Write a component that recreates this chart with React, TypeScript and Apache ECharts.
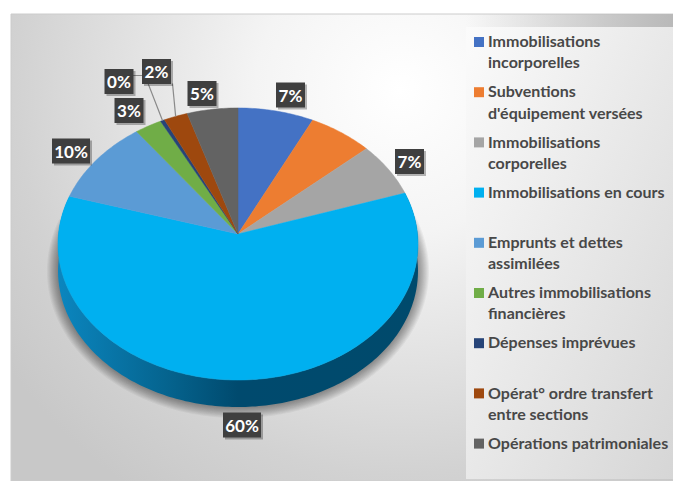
import React, { useEffect, useRef } from "react";
import * as echarts from "echarts";

// Budget shares per section, in percent
const sliceNames = [
  "Immobilisations\nincorporelles",
  "Subventions\nd'équipement versées",
  "Immobilisations\ncorporelles",
  "Immobilisations en cours",
  "Emprunts et dettes\nassimilées",
  "Autres immobilisations\nfinancières",
  "Dépenses imprévues",
  "Opérat° ordre transfert\nentre sections",
  "Opérations patrimoniales",
];
const sliceValues = [7.3, 6.2, 6.5, 59.6, 10.2, 2.6, 0.4, 2.3, 4.9];
const sliceColors = ["#4472c4", "#ed7d31", "#a5a5a5", "#00b0f0", "#5b9bd5", "#70ad47", "#264478", "#9e480e", "#636363"];

// Label box centres; the orange slice carries no label
const labelCenters: ([number, number] | null)[] = [
  [290.5, 95], null, [409.5, 161.5], [242, 425], [71, 151], [129, 110.5], [119, 81.5], [156.5, 71.5], [202, 93.5],
];

const FONT = "Lato, 'Noto Sans', sans-serif";
const CX = 238;
const CY = 234;
const RADIUS_X = 179.5;
const RADIUS_Y = 135.3;
const TILT = 0.0735;
const DEPTH = 27;
const SHADOW_LAYERS = 10;

const total = sliceValues.reduce((a, b) => a + b, 0);

// Perspective projection of a point of the disc's rim, angle clockwise from 12 o'clock
function rim(deg: number): [number, number] {
  const t = (deg * Math.PI) / 180;
  const u = Math.sin(t);
  const v = Math.cos(t);
  const w = 1 + TILT * v;
  return [CX + (RADIUS_X * u) / w, CY - (RADIUS_Y * v) / w];
}

function sliceRange(i: number): [number, number] {
  const before = sliceValues.slice(0, i).reduce((a, b) => a + b, 0);
  return [(before / total) * 360, ((before + sliceValues[i]) / total) * 360];
}

function arcPoints(from: number, to: number): [number, number][] {
  const pts: [number, number][] = [];
  const n = Math.max(2, Math.ceil(to - from));
  for (let k = 0; k <= n; k++) pts.push(rim(from + ((to - from) * k) / n));
  return pts;
}

export default function App() {
  const ref = useRef<HTMLDivElement>(null);

  useEffect(() => {
    document.body.style.margin = "0";
    document.body.style.background = "#ffffff";
    const chart = echarts.init(ref.current!, null, { renderer: "svg" });

    const legendItems: any[] = [];
    sliceNames.forEach((name, i) => {
      const top = 37 + i * 50.2;
      legendItems.push({
        type: "rect",
        z: 3,
        shape: { x: 474, y: top, width: 10, height: 10 },
        style: { fill: sliceColors[i] },
      });
      legendItems.push({
        type: "text",
        z: 3,
        style: {
          x: 488,
          y: top - 7,
          text: name,
          fill: "#484848",
          fontFamily: FONT,
          fontSize: 16,
          fontWeight: 700,
          lineHeight: 21.2,
          align: "left",
          verticalAlign: "top",
        },
      });
    });

    chart.setOption({
      animation: false,
      backgroundColor: "#ffffff",
      graphic: [
        {
          type: "rect",
          z: 0,
          shape: { x: 11, y: 14, width: 662, height: 467 },
          style: {
            fill: {
              type: "radial",
              global: true,
              x: 400,
              y: 90,
              r: 480,
              colorStops: [
                { offset: 0, color: "#ffffff" },
                { offset: 0.3, color: "#f4f4f4" },
                { offset: 0.8, color: "#d2d2d2" },
                { offset: 1, color: "#c8c8c8" },
              ],
            },
            stroke: "#cccccc",
            lineWidth: 1,
          },
        },
        {
          type: "rect",
          z: 1,
          shape: { x: 466, y: 14, width: 207, height: 13 },
          style: {
            fill: {
              type: "linear",
              x: 0,
              y: 0,
              x2: 1,
              y2: 0,
              colorStops: [
                { offset: 0, color: "rgba(190,190,190,0)" },
                { offset: 1, color: "rgba(185,185,185,1)" },
              ],
            },
          },
        },
        {
          type: "rect",
          z: 1,
          shape: { x: 466, y: 27, width: 207, height: 452 },
          style: {
            fill: {
              type: "linear",
              x: 0,
              y: 0,
              x2: 1,
              y2: 1,
              colorStops: [
                { offset: 0, color: "#fbfbfb" },
                { offset: 1, color: "#d6d6d6" },
              ],
            },
          },
        },
        ...legendItems,
      ],
      series: [
        {
          // Soft ground shadow, built from stacked translucent outlines
          type: "custom",
          coordinateSystem: "none",
          z: 2,
          silent: true,
          data: [sliceValues[3]],
          renderItem: () => {
            const [from, to] = sliceRange(3);
            const children: any[] = [];
            for (let k = SHADOW_LAYERS; k >= 1; k--) {
              const grow = k * 1.1;
              const outline = arcPoints(from, to).map(([x, y]) => [
                CX + (x - CX) * (1 + grow / RADIUS_X),
                CY + 10 + (y - CY - 10) * (1 + grow / RADIUS_Y) + DEPTH,
              ]);
              children.push({
                type: "polygon",
                shape: { points: [[CX, CY], ...outline] },
                style: { fill: "rgba(0,0,0,0.045)" },
              });
            }
            return { type: "group", children };
          },
        },
        {
          // Side wall of the disc: only the large front slice shows one
          type: "custom",
          coordinateSystem: "none",
          z: 3,
          silent: true,
          data: [sliceValues[3]],
          renderItem: () => {
            const [from, to] = sliceRange(3);
            const top = arcPoints(from, to);
            const bottom = top.map(([x, y]) => [x, y + DEPTH]).reverse();
            return {
              type: "polygon",
              shape: { points: [...top, ...bottom] },
              style: {
                fill: {
                  type: "linear",
                  global: true,
                  x: 58,
                  y: 0,
                  x2: 418,
                  y2: 0,
                  colorStops: [
                    { offset: 0, color: "#0b86bf" },
                    { offset: 0.3, color: "#05648f" },
                    { offset: 0.5, color: "#004a6e" },
                    { offset: 1, color: "#004a6c" },
                  ],
                },
              },
            };
          },
        },
        {
          // Top surface of the disc
          type: "custom",
          coordinateSystem: "none",
          z: 4,
          silent: true,
          data: sliceValues,
          renderItem: (params: any) => {
            const i = params.dataIndex;
            const [from, to] = sliceRange(i);
            return {
              type: "polygon",
              shape: { points: [[CX, CY], ...arcPoints(from, to)] },
              style: { fill: sliceColors[i], stroke: sliceColors[i], lineWidth: 0.5 },
            };
          },
        },
        {
          // Dark value tags, with leader lines for the two tight slices
          type: "custom",
          coordinateSystem: "none",
          z: 5,
          silent: true,
          data: sliceValues,
          renderItem: (params: any, api: any) => {
            const i = params.dataIndex;
            const c = labelCenters[i];
            if (!c) return { type: "group", children: [] };
            const text = Math.round(api.value(0)) + "%";
            const w = text.length > 2 ? 38 : 29;
            const children: any[] = [];
            const mid = rim((sliceRange(i)[0] + sliceRange(i)[1]) / 2);
            if (i === 6) {
              children.push({
                type: "polyline",
                shape: { points: [[c[0] + 14, c[1] - 6], [145, c[1] - 6], mid] },
                style: { fill: "none", stroke: "#8a8a8a", lineWidth: 1.2 },
              });
            }
            if (i === 7) {
              children.push({
                type: "line",
                shape: { x1: c[0] + 16, y1: c[1] + 12, x2: mid[0], y2: mid[1] },
                style: { stroke: "#8a8a8a", lineWidth: 1.2 },
              });
            }
            children.push({
              type: "rect",
              shape: { x: c[0] - w / 2 + 2, y: c[1] - 10.5, width: w, height: 25 },
              style: { fill: "rgba(0,0,0,0.28)" },
            });
            children.push({
              type: "rect",
              shape: { x: c[0] - w / 2, y: c[1] - 12.5, width: w, height: 25 },
              style: { fill: "#3f3f3f" },
            });
            children.push({
              type: "text",
              style: {
                x: c[0],
                y: c[1],
                text,
                fill: "#ffffff",
                fontFamily: FONT,
                fontSize: 17,
                fontWeight: 700,
                align: "center",
                verticalAlign: "middle",
              },
            });
            return { type: "group", children };
          },
        },
      ],
    });

    return () => chart.dispose();
  }, []);

  return <div ref={ref} style={{ position: "absolute", left: 0, top: 0, width: 673, height: 481 }} />;
}
